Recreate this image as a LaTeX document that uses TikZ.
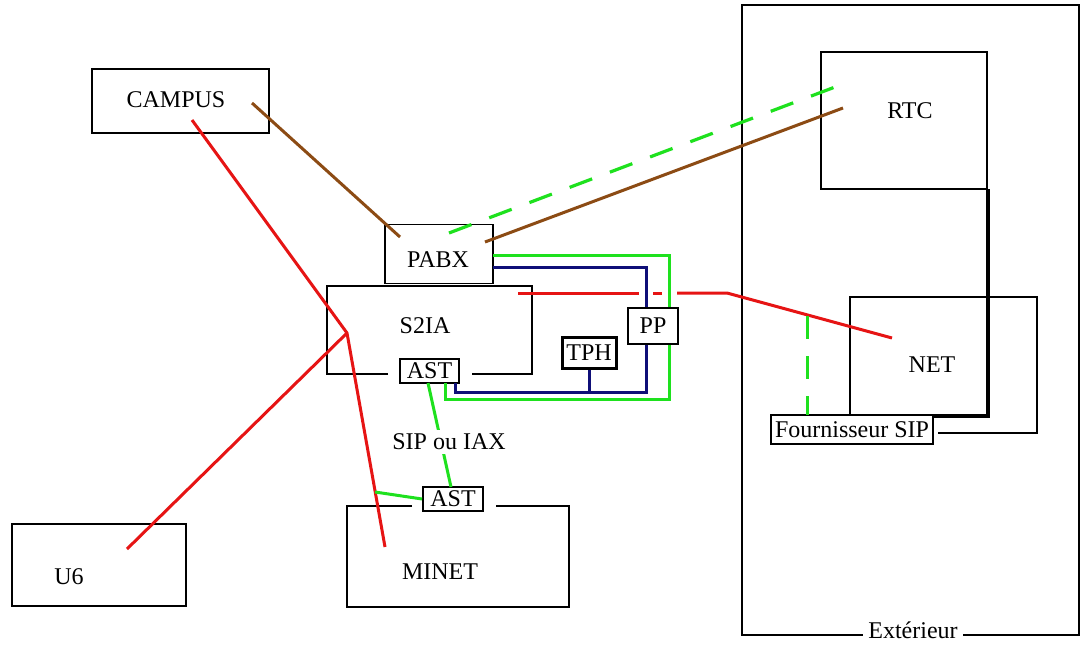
\documentclass[tikz,border=0pt]{standalone}
\usepackage{fontspec}
\setmainfont{Liberation Serif}
\definecolor{vgreen}{RGB}{30,225,30}
\definecolor{vred}{RGB}{230,20,20}
\definecolor{vbrown}{RGB}{140,75,20}
\definecolor{vnavy}{RGB}{15,15,120}
\begin{document}
\begin{tikzpicture}[x=1pt,y=-1pt,
  every node/.style={font=\fontsize{24}{27}\selectfont, inner sep=0pt},
  box/.style={draw=black, line width=1.8pt, rectangle},
  smallbox/.style={draw=black, line width=1.8pt, rectangle, fill=white},
  lbl/.style={text=black},
  edgeline/.style={line width=1.8pt, black},
  grn/.style={vgreen, line width=3pt},
  grndash/.style={vgreen, line width=3.2pt, dash pattern=on 24pt off 19pt},
  redl/.style={vred, line width=3pt},
  brn/.style={vbrown, line width=3pt},
  nav/.style={vnavy, line width=3pt},
  thickblk/.style={black, line width=3.5pt, line join=miter}
]
\useasboundingbox (0,0) rectangle (1084,645);
\fill[white] (0,0) rectangle (1084,645);

% big boxes
\node[box, minimum width=337, minimum height=630] (ext) at (910.5,320) {};
\node[box, minimum width=177, minimum height=64] (campus) at (180.5,101) {};
\node[box, minimum width=108, minimum height=59] (pabx) at (439,254) {};
\node[box, minimum width=174, minimum height=82] (u6) at (99,565) {};
\node[box, minimum width=166, minimum height=137] (rtc) at (904,120.5) {};

% S2IA box with gap
\coordinate (s2a) at (388,374);
\coordinate (s2b) at (472,374);
\draw[edgeline] (s2a) -- (327,374) -- (327,286) -- (532,286) -- (532,374) -- (s2b);
% MINET box with gap
\coordinate (mia) at (412,506);
\coordinate (mib) at (496,506);
\draw[edgeline] (mia) -- (347,506) -- (347,607) -- (569,607) -- (569,506) -- (mib);
% NET box (partly hidden)
\coordinate (neta) at (938,433);
\coordinate (netb) at (850,415);
\draw[edgeline] (neta) -- (1037,433) -- (1037,297) -- (850,297) -- (netb);

% label Extérieur over bottom line
\node[lbl, fill=white, inner xsep=5pt, inner ysep=0pt] (extT) at (913,630) {Extérieur};

% texts
\node[lbl] (campusT) at (176,100) {CAMPUS};
\node[lbl] (pabxT) at (438,260) {PABX};
\node[lbl] (s2iaT) at (425,326) {S2IA};
\node[lbl] (minetT) at (440,572) {MINET};
\node[lbl] (u6T) at (69,577) {U6};
\node[lbl] (rtcT) at (910,111) {RTC};
\node[lbl] (netT) at (932,365) {NET};

% coordinates for connector ends
\coordinate (cR) at (192,120);
\coordinate (kink) at (347,333);
\coordinate (mR) at (385,547);
\coordinate (uR) at (127,549);
\coordinate (cB) at (252,103);
\coordinate (pB1) at (400,237);
\coordinate (pB2) at (485,242);
\coordinate (rB) at (843,108);
\coordinate (pG) at (449,233);
\coordinate (rG) at (843,84);

% red lines
\draw[redl, line join=round] (cR) -- (kink) -- (mR);
\draw[redl] (uR) -- (kink);
\coordinate (sR) at (518,293);
\coordinate (nR) at (892,338);
\draw[redl] (sR) -- (639,293);
\draw[redl] (653,293) -- (662,293);
\draw[redl] (677,293) -- (727,293) -- (nR);

% brown lines
\draw[brn] (cB) -- (pB1);
\draw[brn] (pB2) -- (rB);
% green dashed PABX-RTC
\draw[grndash] (pG) -- (rG);

% small boxes
\node[smallbox, minimum width=59, minimum height=24] (ast1) at (429.5,371) {AST};
\node[smallbox, minimum width=60, minimum height=24] (ast2) at (453,499) {AST};
\node[smallbox, line width=3pt, minimum width=54, minimum height=31] (tph) at (589,352.5) {TPH};

% green loop PABX - AST
\draw[grn] (493,255) -- (669,255) -- (669,399) -- (445,399) -- (445,383);
% navy loop
\draw[nav] (493,267) -- (646,267) -- (646,308);
\draw[nav] (646,344) -- (646,392) -- (455,392) -- (455,383);
\draw[nav] (tph.south) -- (589,392);

\node[smallbox, minimum width=50, minimum height=36] (pp) at (653,326) {PP};

% green AST - AST
\draw[grn] (428,383) -- (451,487);
\node[lbl, fill=white, inner xsep=2pt, inner ysep=4pt] (sipT) at (449,442) {SIP ou IAX};
\draw[grn] (375,492) -- (ast2.west);

% Fournisseur SIP
\node[smallbox, minimum width=162, minimum height=29] (four) at (852,429.5) {Fournisseur SIP};
\coordinate (fourTR) at (933,416);
\draw[thickblk] (988,189) -- (988,416) -- (fourTR);
\draw[grn, dash pattern=on 23pt off 17pt] (807,316) -- (807,415);
\end{tikzpicture}
\end{document}
